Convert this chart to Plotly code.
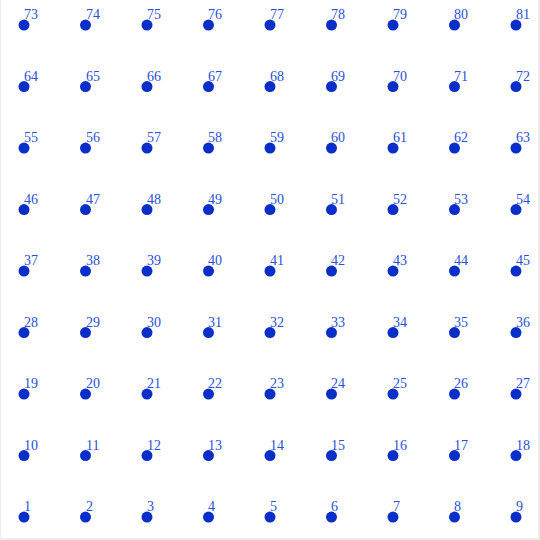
import plotly.graph_objects as go

xs = [1, 2, 3, 4, 5, 6, 7, 8, 9]
ys = [1, 2, 3, 4, 5, 6, 7, 8, 9]
px, py, labels = [], [], []
for yv in ys:
    for xv in xs:
        px.append(xv)
        py.append(yv)
        labels.append(str((yv - 1) * 9 + xv))

fig = go.Figure()
fig.add_trace(go.Scatter(
    x=px, y=py, mode="markers",
    marker=dict(color="#0a2ec8", size=11),
))
for xv, yv, lab in zip(px, py, labels):
    fig.add_annotation(
        x=xv, y=yv, text=lab, showarrow=False,
        xanchor="left", yanchor="bottom", xshift=-2, yshift=1,
        font=dict(family="Liberation Serif", size=14, color="#2a50d8"),
    )
fig.update_layout(
    width=540, height=540,
    margin=dict(l=1, r=2, t=0, b=2),
    paper_bgcolor="#ececec", plot_bgcolor="white",
    showlegend=False,
    xaxis=dict(range=[0.626, 9.358], visible=False),
    yaxis=dict(range=[0.659, 9.407], visible=False),
)
fig.write_html("out.html")
